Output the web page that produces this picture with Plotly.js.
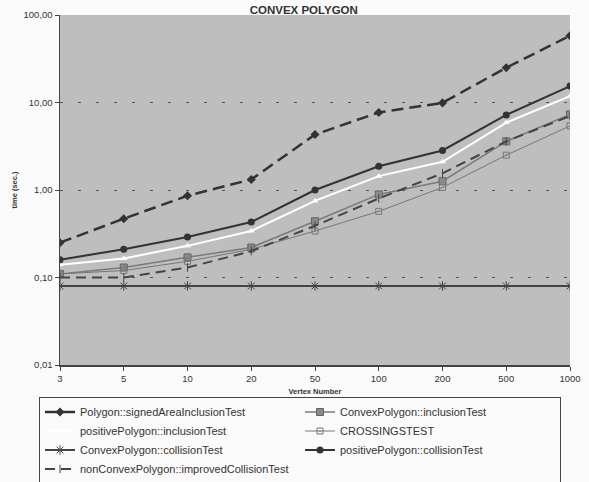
<!DOCTYPE html>
<html>
<head>
<meta charset="utf-8">
<script src="https://cdn.plot.ly/plotly-3.0.1.min.js"></script>
<style>html,body{margin:0;padding:0;background:#fafafa;}#chart{width:589px;height:482px;}</style>
</head>
<body>
<div id="chart"></div>
<script>
const vertexNumbers = ['3', '5', '10', '20', '50', '100', '200', '500', '1000'];
const signedAreaInclusion = [0.25, 0.47, 0.86, 1.32, 4.3, 7.7, 9.9, 25, 58];
const convexInclusion = [0.11, 0.13, 0.17, 0.22, 0.44, 0.89, 1.26, 3.6, 7.3];
const positiveInclusion = [0.14, 0.165, 0.23, 0.34, 0.75, 1.44, 2.1, 5.9, 11.8];
const crossingsTest = [0.11, 0.12, 0.153, 0.21, 0.34, 0.57, 1.07, 2.5, 5.4];
const convexCollision = [0.08, 0.08, 0.08, 0.08, 0.08, 0.08, 0.08, 0.08, 0.08];
const positiveCollision = [0.16, 0.21, 0.29, 0.43, 1.0, 1.87, 2.83, 7.2, 15.4];
const nonConvexImproved = [0.1, 0.1, 0.13, 0.2, 0.39, 0.8, 1.55, 3.6, 7.0];
const yTickVals = [0.01, 0.1, 1, 10, 100];
const yTickText = ['0,01', '0,10', '1,00', '10,00', '100,00'];

const traces = [
  {name: 'Polygon::signedAreaInclusionTest', y: signedAreaInclusion,
   line: {color: '#333', width: 2.5, dash: '12px,6px'},
   marker: {symbol: 'diamond', size: 7, color: '#333'}},
  {name: 'ConvexPolygon::inclusionTest', y: convexInclusion,
   line: {color: '#7a7a7a', width: 1.5},
   marker: {symbol: 'square', size: 7, color: '#8a8a8a', line: {color: '#666', width: 1}}},
  {name: 'positivePolygon::inclusionTest', y: positiveInclusion,
   line: {color: '#ffffff', width: 2},
   marker: {symbol: 'triangle-up', size: 6, color: '#ffffff'}},
  {name: 'CROSSINGSTEST', y: crossingsTest,
   line: {color: '#777', width: 1},
   marker: {symbol: 'square-open-dot', size: 6, color: '#777', line: {width: 1}}},
  {name: 'ConvexPolygon::collisionTest', y: convexCollision,
   line: {color: '#444', width: 2},
   marker: {symbol: 'asterisk-open', size: 8, color: '#444', line: {color: '#444', width: 1}}},
  {name: 'positivePolygon::collisionTest', y: positiveCollision,
   line: {color: '#333', width: 2},
   marker: {symbol: 'circle', size: 7, color: '#333'}},
  {name: 'nonConvexPolygon::improvedCollisionTest', y: nonConvexImproved,
   line: {color: '#444', width: 2, dash: '10px,6px'},
   marker: {symbol: 'line-ns-open', size: 6, color: '#444', line: {color: '#444', width: 1}}}
].map(t => Object.assign({type: 'scatter', mode: 'lines+markers', x: vertexNumbers}, t));

const layout = {
  width: 589, height: 482,
  margin: {l: 60, r: 19, t: 15, b: 117, autoexpand: false},
  paper_bgcolor: '#fafafa',
  plot_bgcolor: '#bebebe',
  font: {family: 'Liberation Sans, Arial, sans-serif', color: '#333', size: 10},
  title: {text: '<b>CONVEX POLYGON</b>', font: {size: 11.5, color: '#333'},
          xref: 'paper', x: 0.478, xanchor: 'center', yref: 'container', y: 0.979, yanchor: 'middle'},
  xaxis: {type: 'category', range: [0, 8], showgrid: false, zeroline: false,
          showline: true, linecolor: '#444', linewidth: 1.5,
          ticks: 'outside', ticklen: 4, tickcolor: '#444',
          tickfont: {size: 9.5, color: '#333'},
          title: {text: '<b>Vertex Number</b>', font: {size: 7.5, color: '#333'}, standoff: 6}},
  yaxis: {type: 'log', range: [-2, 2], tickvals: yTickVals, ticktext: yTickText,
          showgrid: true, gridcolor: '#555', gridwidth: 1, griddash: '3px,15px',
          zeroline: false, showline: true, linecolor: '#444', linewidth: 1.5,
          ticks: 'outside', ticklen: 4, tickcolor: '#444',
          tickfont: {size: 9.5, color: '#333'},
          title: {text: '<b>time (sec.)</b>', font: {size: 7.5, color: '#333'}, standoff: 5}},
  showlegend: true,
  legend: {orientation: 'h', xref: 'paper', x: -21 / 510, xanchor: 'left',
           yref: 'paper', y: -(396.5 - 365) / 350, yanchor: 'top',
           entrywidth: 215, entrywidthmode: 'pixels', itemwidth: 30,
           bordercolor: '#444', borderwidth: 1, bgcolor: 'rgba(250,250,250,0)',
           font: {size: 11, color: '#333'}, tracegroupgap: 0}
};

Plotly.newPlot('chart', traces, layout, {displayModeBar: false, staticPlot: true});
</script>
</body>
</html>
